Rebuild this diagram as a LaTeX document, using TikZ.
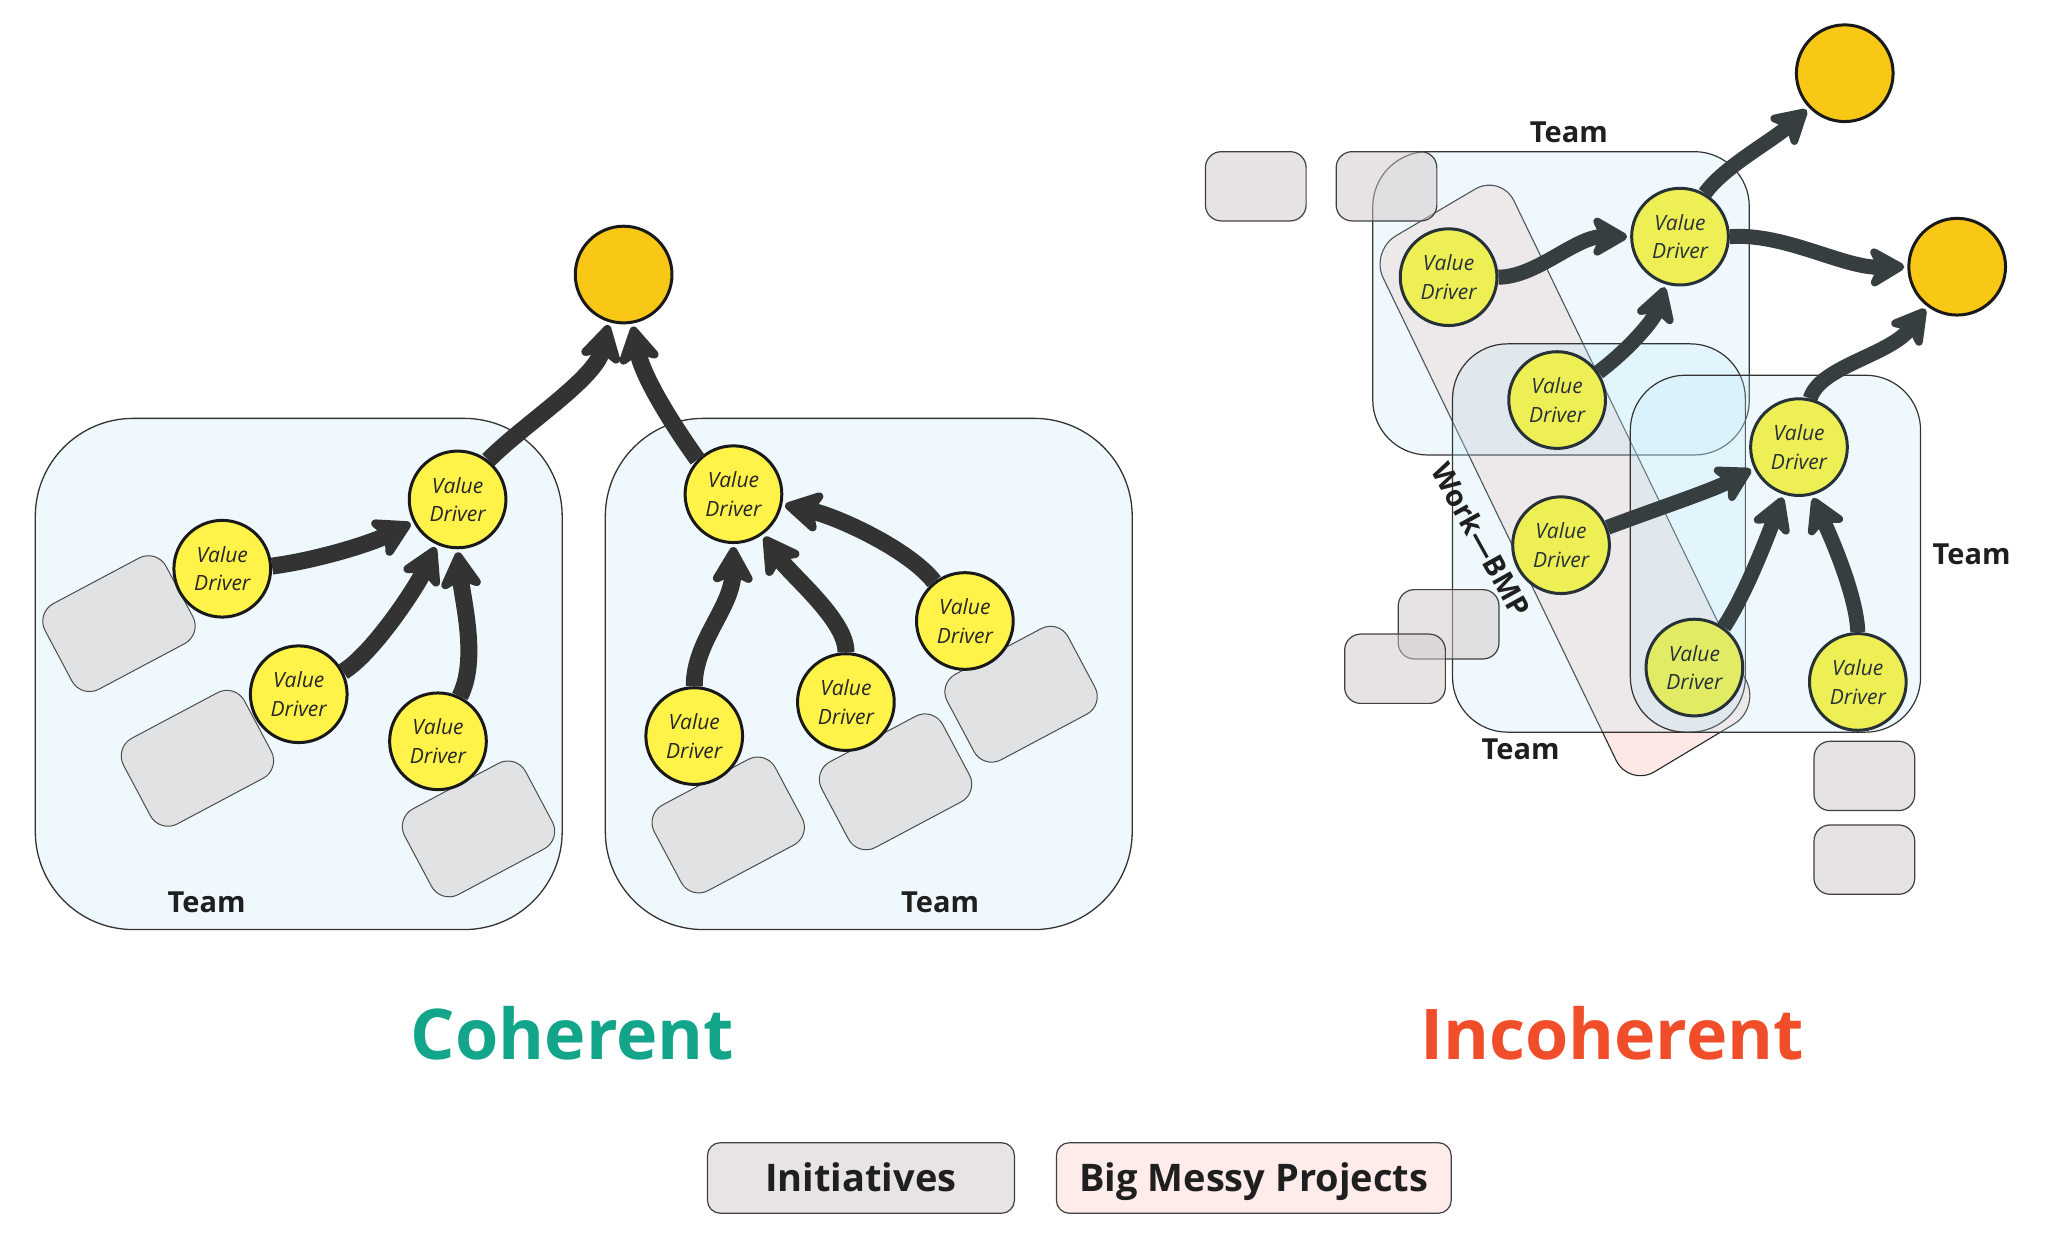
\documentclass[tikz,border=0pt]{standalone}
\usepackage{fontspec}
\setmainfont{Open Sans}
\usetikzlibrary{arrows.meta}
\definecolor{teamleft}{RGB}{239,249,253}
\definecolor{teamfill}{RGB}{190,233,248}
\definecolor{vdyel}{RGB}{255,243,74}
\definecolor{vdyelR}{RGB}{238,238,85}
\definecolor{vdyelRs}{RGB}{226,235,100}
\definecolor{goalc}{RGB}{249,199,22}
\definecolor{arrLc}{RGB}{51,51,51}
\definecolor{arrRc}{RGB}{55,62,64}
\definecolor{initLc}{RGB}{225,226,228}
\definecolor{initRc}{RGB}{210,200,200}
\definecolor{bmpc}{RGB}{253,232,230}
\definecolor{cohc}{RGB}{19,165,137}
\definecolor{incc}{RGB}{240,78,42}
\definecolor{legI}{RGB}{232,228,228}
\definecolor{legB}{RGB}{253,236,234}
\definecolor{slate}{RGB}{38,50,56}
\tikzset{
  teamL/.style={draw=black!80, line width=1.3pt, fill=teamleft, rounded corners=98pt},
  teamR/.style={draw=black!80, line width=1.2pt, fill=teamfill, fill opacity=0.25, rounded corners=55pt},
  bmp/.style={draw=black!85, line width=1.1pt, fill=bmpc, rounded corners=30pt},
  vd/.style={circle, draw=black!90, line width=3pt, fill=vdyel, minimum size=96.7pt, inner sep=0pt,
    align=center, font=\fontsize{21}{28.5}\selectfont\itshape, text=black!85},
  vdR/.style={vd, draw=slate, fill=vdyelR, text=slate},
  goal/.style={circle, draw=black!90, line width=3pt, fill=goalc, minimum size=96.7pt, inner sep=0pt},
  initl/.style={draw=black!70, line width=1pt, fill=initLc, rounded corners=20pt,
    minimum width=137pt, minimum height=97pt, rotate=28, inner sep=0pt},
  initr/.style={draw=black!75, line width=1.2pt, fill=initRc, fill opacity=0.5, rounded corners=16pt,
    minimum width=100.7pt, minimum height=69.3pt, inner sep=0pt},
  teamlbl/.style={font=\fontsize{29}{34}\selectfont\bfseries, text=black!88},
  arrL/.style={draw=arrLc, line width=17pt, shorten >=3pt,
    -{Stealth[length=44pt,width=50pt,inset=11pt,round]}},
  arrR/.style={draw=arrRc, line width=15pt, shorten >=3pt,
    -{Stealth[length=42pt,width=48pt,inset=11pt,round]}},
  legend/.style={draw=black!75, line width=1.2pt, rounded corners=13pt, minimum height=70.6pt,
    font=\fontsize{38}{44}\selectfont\bfseries, text=black!88, inner sep=0pt,
    text height=32pt, text depth=4pt}
}
\begin{document}
\begin{tikzpicture}[x=1.3074pt, y=-1.3074pt]
\useasboundingbox (0,0) rectangle (1568,953);

% ---------------- Coherent (left) ----------------
\draw[teamL] (27,320) rectangle (430,711);
\draw[teamL] (463,320) rectangle (866,711);
\node[teamlbl] (tlA) at (158,690) {Team};
\node[teamlbl] (tlB) at (719,690) {Team};

\node[initl] (iA1) at (91,477) {};
\node[initl] (iA2) at (151,580) {};
\node[initl] (iA3) at (366,634) {};
\node[initl] (iB1) at (557,631) {};
\node[initl] (iB2) at (685,598) {};
\node[initl] (iB3) at (781,531) {};

\node[goal] (goalL) at (477,210) {};
\node[vd] (vdA1) at (170,435) {Value\\Driver};
\node[vd] (vdA2) at (228.5,531) {Value\\Driver};
\node[vd] (vdA3) at (335,567) {Value\\Driver};
\node[vd] (vdA4) at (350,382) {Value\\Driver};
\node[vd] (vdB1) at (561,378) {Value\\Driver};
\node[vd] (vdB2) at (531,563) {Value\\Driver};
\node[vd] (vdB3) at (647,537) {Value\\Driver};
\node[vd] (vdB4) at (738,475) {Value\\Driver};

\draw[arrL] (vdA1.3) .. controls (245,428) and (285,415) .. (vdA4.-153);
\draw[arrL] (vdA2.27) .. controls (285,500) and (318,450) .. (vdA4.-115);
\draw[arrL] (vdA3.64) .. controls (366,505) and (354,460) .. (vdA4.-90);
\draw[arrL] (vdA4.52) .. controls (400,325) and (455,290) .. (goalL.-107);
\draw[arrL] (vdB1.136) .. controls (518,330) and (492,290) .. (goalL.-80);
\draw[arrL] (vdB2.90) .. controls (531,490) and (560,465) .. (vdB1.-90);
\draw[arrL] (vdB3.90) .. controls (648,475) and (605,440) .. (vdB1.-54);
\draw[arrL] (vdB4.128) .. controls (695,420) and (640,395) .. (vdB1.-12);

\node[font=\fontsize{70}{80}\selectfont\bfseries, text=cohc] (coh) at (438,790) {Coherent};

% ---------------- Incoherent (right) ----------------
\draw[bmp] (1148,133) -- (1048,192) -- (1246,602) -- (1346,542) -- cycle;
\draw[teamR] (1050,116) rectangle (1338,348);
\draw[teamR] (1111,263) rectangle (1335,560);
\draw[teamR] (1247,287) rectangle (1469,560);
\node[teamlbl] (tl1) at (1200,101) {Team};
\node[teamlbl] (tl2) at (1163,573) {Team};
\node[teamlbl] (tl3) at (1508,424) {Team};
\node[teamlbl, rotate=-61] (wbmp) at (1133,413) {Work—BMP};

\node[initr] (s1) at (960.5,142.5) {};
\node[initr] (s2) at (1060.5,142.5) {};
\node[initr] (s3) at (1108,477.5) {};
\node[initr] (s4) at (1067,511.5) {};
\node[initr] (s5) at (1426,593.5) {};
\node[initr] (s6) at (1426,657.5) {};

\node[goal] (g1) at (1411,56) {};
\node[goal] (g2) at (1497,204) {};
\node[vdR] (r1) at (1108,212) {Value\\Driver};
\node[vdR] (r2) at (1285,181) {Value\\Driver};
\node[vdR] (r3) at (1191,306) {Value\\Driver};
\node[vdR] (r4) at (1194,417) {Value\\Driver};
\node[vdR] (r5) at (1376,342) {Value\\Driver};
\node[vdR, fill=vdyelRs] (r6) at (1296,510.6) {Value\\Driver};
\node[vdR] (r7) at (1421,521.6) {Value\\Driver};

\draw[arrR] (r1.0) .. controls (1175,212) and (1205,181) .. (r2.180);
\draw[arrR] (r2.60) .. controls (1318,128) and (1355,108) .. (g1.-136);
\draw[arrR] (r2.0) .. controls (1365,178) and (1410,205) .. (g2.180);
\draw[arrR] (r3.34) .. controls (1245,268) and (1265,245) .. (r2.-107);
\draw[arrR] (r5.77) .. controls (1392,280) and (1445,272) .. (g2.-127);
\draw[arrR] (r4.21) .. controls (1265,390) and (1310,375) .. (r5.-155);
\draw[arrR] (r6.54) .. controls (1335,455) and (1352,410) .. (r5.-108);
\draw[arrR] (r7.90) .. controls (1420,455) and (1400,410) .. (r5.-75);

\node[font=\fontsize{70}{80}\selectfont\bfseries, text=incc] (inc) at (1233,790) {Incoherent};

% ---------------- Legend ----------------
\node[legend, fill=legI, minimum width=307pt] (legi) at (658.5,901) {Initiatives};
\node[legend, fill=legB, minimum width=394.8pt] (legb) at (959,901) {Big Messy Projects};
\end{tikzpicture}
\end{document}
